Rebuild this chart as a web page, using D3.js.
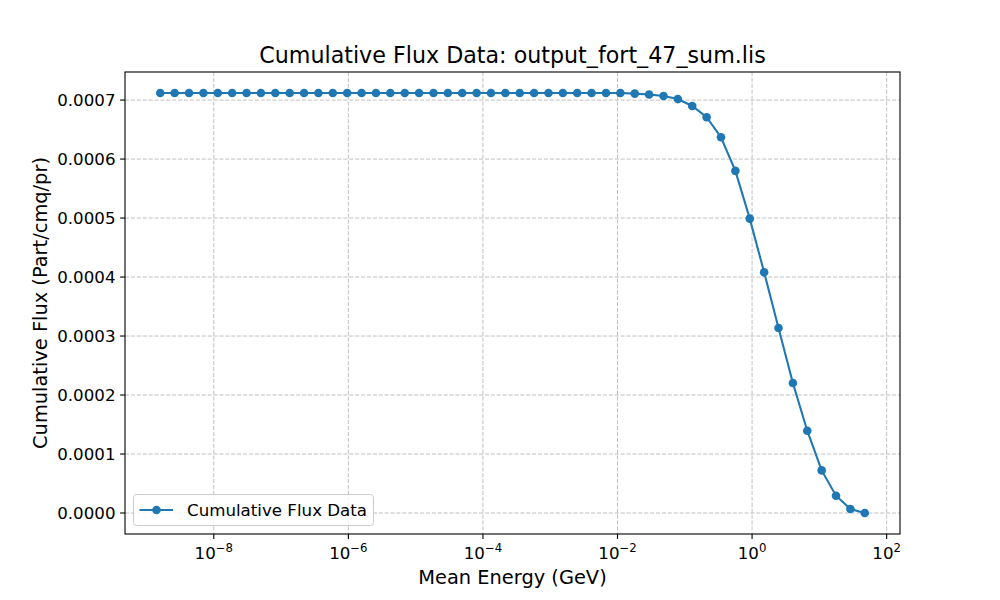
<!DOCTYPE html>
<html><head><meta charset="utf-8">
<script src="https://cdn.jsdelivr.net/npm/d3@7"></script>
<style>body{margin:0;background:#fff}svg{display:block;font-family:"DejaVu Sans",sans-serif}</style>
</head><body>
<script>
const energies = [1.60e-9,2.62e-9,4.29e-9,7.01e-9,1.147e-8,1.876e-8,3.07e-8,5.02e-8,8.21e-8,1.343e-7,
  2.196e-7,3.59e-7,5.87e-7,9.61e-7,1.572e-6,2.571e-6,4.20e-6,6.88e-6,1.125e-5,1.840e-5,
  3.01e-5,4.92e-5,8.05e-5,1.317e-4,2.154e-4,3.52e-4,5.76e-4,9.42e-4,1.541e-3,2.521e-3,
  4.12e-3,6.74e-3,1.103e-2,1.804e-2,2.950e-2,4.83e-2,7.89e-2,0.1291,0.2111,0.345,
  0.565,0.924,1.511,2.471,4.04,6.61,10.81,17.68,28.9,47.3];
const flux = [0.000712,0.000712,0.000712,0.000712,0.000712,0.000712,0.000712,0.000712,0.000712,0.000712,
  0.000712,0.000712,0.000712,0.000712,0.000712,0.000712,0.000712,0.000712,0.000712,0.000712,
  0.000712,0.000712,0.000712,0.000712,0.000712,0.000712,0.000712,0.000712,0.000712,0.000712,
  0.000712,0.000712,0.000712,0.000711,0.0007095,0.0007068,0.0007017,0.000690,0.000671,0.000637,
  0.000580,0.000499,0.000408,0.0003136,0.0002203,0.0001395,0.0000722,0.0000293,0.0000068,0.0];
const xTickExps = [-8,-6,-4,-2,0,2];
const yTicks = [0,0.0001,0.0002,0.0003,0.0004,0.0005,0.0006,0.0007];
const titleText = "Cumulative Flux Data: output_fort_47_sum.lis";
const xLabel = "Mean Energy (GeV)";
const yLabel = "Cumulative Flux (Part/cmq/pr)";
const seriesName = "Cumulative Flux Data";

const W=1000,H=600,L=125,R=900,T=72,B=534;
const color="#1f77b4";
const svg=d3.select("body").append("svg").attr("width",W).attr("height",H);

const lmin=Math.log10(d3.min(energies)), lmax=Math.log10(d3.max(energies));
const lm=(lmax-lmin)*0.05;
const x=d3.scaleLog().domain([Math.pow(10,lmin-lm),Math.pow(10,lmax+lm)]).range([L,R]);
const ymin=d3.min(flux), ymax=d3.max(flux), ym=(ymax-ymin)*0.05;
const y=d3.scaleLinear().domain([ymin-ym,ymax+ym]).range([B,T]);

// grid
const g=svg.append("g");
g.selectAll(".gx").data(xTickExps).join("line")
  .attr("x1",d=>x(Math.pow(10,d))).attr("x2",d=>x(Math.pow(10,d)))
  .attr("y1",T).attr("y2",B).attr("stroke","#b0b0b0").attr("stroke-width",0.8).attr("stroke-dasharray","4.1,1.8");
g.selectAll(".gy").data(yTicks).join("line")
  .attr("y1",d=>y(d)).attr("y2",d=>y(d))
  .attr("x1",L).attr("x2",R).attr("stroke","#b0b0b0").attr("stroke-width",0.8).attr("stroke-dasharray","4.1,1.8");

// line + markers
const line=d3.line().x((d,i)=>x(energies[i])).y(d=>y(d));
svg.append("path").datum(flux).attr("d",line).attr("fill","none").attr("stroke",color).attr("stroke-width",2.08);
svg.selectAll(".pt").data(flux).join("circle")
  .attr("cx",(d,i)=>x(energies[i])).attr("cy",d=>y(d)).attr("r",4.3).attr("fill",color);

// axes frame
svg.append("rect").attr("x",L).attr("y",T).attr("width",R-L).attr("height",B-T)
  .attr("fill","none").attr("stroke","#000").attr("stroke-width",1.1);

// x ticks
const xt=svg.append("g");
xTickExps.forEach(e=>{
  const px=x(Math.pow(10,e));
  xt.append("line").attr("x1",px).attr("x2",px).attr("y1",B).attr("y2",B+4.9).attr("stroke","#000").attr("stroke-width",1.1);
  const t=xt.append("text").attr("x",px).attr("y",B+24.5).attr("text-anchor","middle").attr("font-size",16.67).attr("fill","#000");
  t.append("tspan").text("10");
  t.append("tspan").attr("dy",-7).attr("font-size",11.7).text(e<0?"\u2212"+Math.abs(e):String(e));
});
// y ticks
const yt=svg.append("g");
yTicks.forEach(v=>{
  const py=y(v);
  yt.append("line").attr("x1",L-4.9).attr("x2",L).attr("y1",py).attr("y2",py).attr("stroke","#000").attr("stroke-width",1.1);
  yt.append("text").attr("x",L-9.5).attr("y",py).attr("dy","0.36em").attr("text-anchor","end").attr("font-size",16.67).text(v.toFixed(4));
});

// labels
svg.append("text").attr("x",(L+R)/2).attr("y",63).attr("text-anchor","middle").attr("font-size",22.2).text(titleText);
svg.append("text").attr("x",(L+R)/2).attr("y",584).attr("text-anchor","middle").attr("font-size",19.4).text(xLabel);
svg.append("text").attr("transform",`translate(47,${(T+B)/2}) rotate(-90)`).attr("text-anchor","middle").attr("font-size",19.4).text(yLabel);

// legend
const lg=svg.append("g");
lg.append("rect").attr("x",133.5).attr("y",494.5).attr("width",240).attr("height",31).attr("rx",3)
  .attr("fill","#fff").attr("fill-opacity",0.8).attr("stroke","#cccccc").attr("stroke-width",1);
lg.append("line").attr("x1",139.5).attr("x2",173).attr("y1",510).attr("y2",510).attr("stroke",color).attr("stroke-width",2.08);
lg.append("circle").attr("cx",156.5).attr("cy",510).attr("r",4.3).attr("fill",color);
lg.append("text").attr("x",187).attr("y",510).attr("dy","0.36em").attr("font-size",16.67).text(seriesName);
</script>
</body></html>
